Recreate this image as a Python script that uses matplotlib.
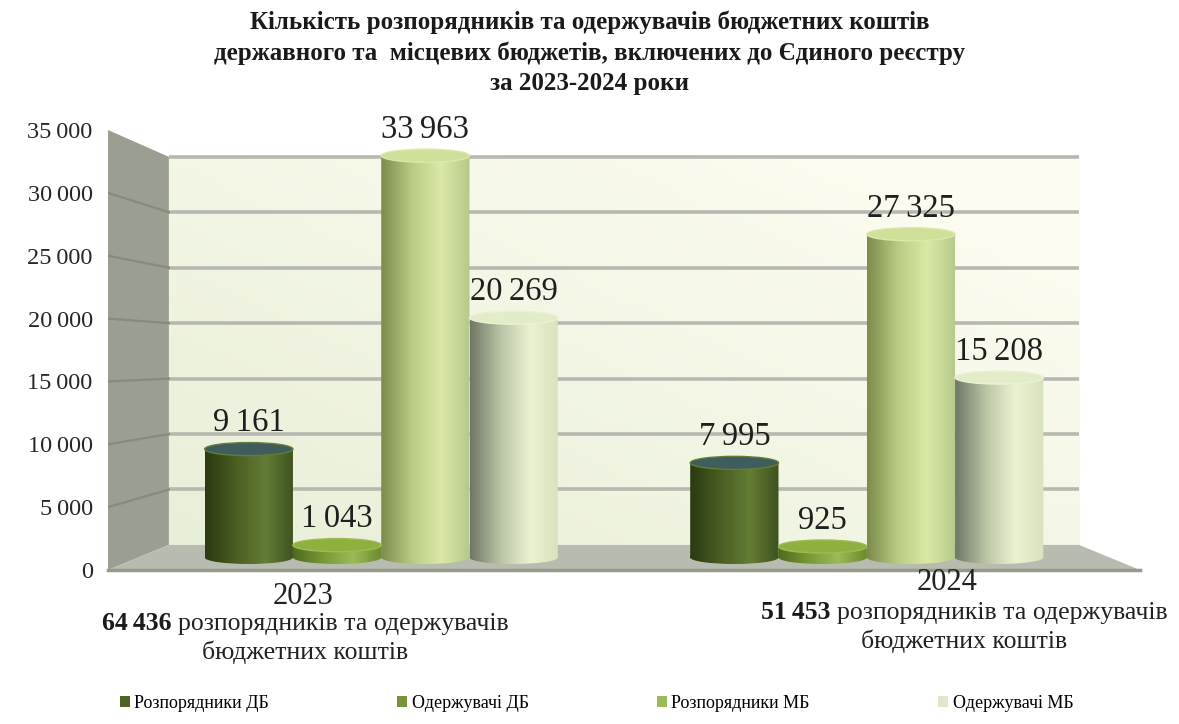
import numpy as np
import matplotlib

matplotlib.use("Agg")
import matplotlib.pyplot as plt
from matplotlib.patches import Polygon, Ellipse, Patch, PathPatch
from matplotlib.path import Path
from matplotlib.colors import LinearSegmentedColormap, to_rgb

plt.rcParams["font.family"] = ["Liberation Serif", "DejaVu Serif"]

# --- data -------------------------------------------------------------------
years = ["2023", "2024"]
series = ["Розпорядники ДБ", "Одержувачі ДБ", "Розпорядники МБ", "Одержувачі МБ"]
values_2023 = [9161, 1043, 33963, 20269]
values_2024 = [7995, 925, 27325, 15208]
y_ticks = [0, 5000, 10000, 15000, 20000, 25000, 30000, 35000]
title = ("Кількість розпорядників та одержувачів бюджетних коштів\n"
         "державного та  місцевих бюджетів, включених до Єдиного реєстру\n"
         "за 2023-2024 роки")
total_caption = "розпорядників та одержувачів\nбюджетних коштів"

# --- style ------------------------------------------------------------------
legend_colors = ["#4f6228", "#77933c", "#9bbb59", "#dfe8cc"]
# cylinder shading, left edge -> highlight -> right edge
shades = [
    ["#2c3a12", "#4a5e22", "#647d35", "#3f5220"],
    ["#4f6a1e", "#7a9a36", "#9dbb55", "#6d8a2c"],
    ["#7d8c4c", "#b9cc84", "#dbe9a7", "#b6c98a"],
    ["#6f7766", "#bcc6a6", "#eaf2d2", "#d8e3bd"],
]
top_colors = ["#3f5d5c", "#8fb03e", "#cfe09a", "#e3ecc8"]

X_LO, X_HI = -2.75, 8.25        # plot box in bar slots
V_MAX = 35000
VPX, VPV = 2.75, 16900          # vanishing point (front-plane units)
K_BACK = 0.882                  # scale of the back wall
BAR_D = 0.5                     # depth of the cylinders
TOP_RY = 520                    # half height of the cylinder caps
group_x = [0.0, 5.5]
bar_off = [-1.5, -0.5, 0.5, 1.5]


def proj(x, v, d):
    k = 1 - (1 - K_BACK) * np.asarray(d, dtype=float)
    return VPX + k * (np.asarray(x) - VPX), VPV + k * (np.asarray(v) - VPV)


def fmt(n):
    return f"{n:,}".replace(",", "\u2009")


fig = plt.figure(figsize=(11.79, 7.24), dpi=100)
ax = fig.add_axes([108 / 1179, 1 - 570 / 724, 1032 / 1179, 440 / 724])
ax.set_xlim(X_LO, X_HI)
ax.set_ylim(0, V_MAX)
for s in ax.spines.values():
    s.set_visible(False)
ax.set_xticks([])
ax.set_yticks(y_ticks)
ax.set_yticklabels([fmt(t) for t in y_ticks], fontsize=17.5, color="#262626")
ax.tick_params(axis="y", length=0, pad=11)

# back wall with soft gradient
bx0, bv0 = proj(X_LO, 0, 1)
bx1, bv1 = proj(X_HI, V_MAX, 1)
gy = np.linspace(0, 1, 60)[:, None]
gx = np.linspace(0, 1, 120)[None, :]
c_low = np.array(to_rgb("#e8efd8"))
c_high = np.array(to_rgb("#fcfcf0"))
mix = np.clip(0.55 * (1 - gy) + 0.6 * gx, 0, 1)[..., None]
wall = c_low * (1 - mix) + c_high * mix
ax.imshow(wall, extent=[bx0, bx1, bv0, bv1], origin="upper", aspect="auto", zorder=0)
for t in y_ticks[1:]:
    xs, vs = proj([X_LO, X_HI], [t, t], 1)
    ax.plot(xs, vs, color="#b7b8b0", lw=2.6, zorder=1, solid_capstyle="butt")

# left side wall
sx, sv = proj([X_LO, X_LO, X_LO, X_LO], [0, 0, V_MAX, V_MAX], [0, 1, 1, 0])
ax.add_patch(Polygon(np.column_stack([sx, sv]), closed=True, fc="#9a9f91",
                     ec="none", zorder=2, clip_on=False))
for t in y_ticks[1:-1]:
    xs, vs = proj([X_LO, X_LO], [t, t], [0, 1])
    ax.plot(xs, vs, color="#868b7d", lw=1.6, zorder=2)

# floor
fx, fv = proj([X_LO, X_HI, X_HI, X_LO], [0, 0, 0, 0], [0, 0, 1, 1])
ax.add_patch(Polygon(np.column_stack([fx, fv]), closed=True, fc="#b8bbaf",
                     ec="none", zorder=2, clip_on=False))
ax.plot([X_LO, X_HI], [0, 0], color="#959a8c", lw=2.5, zorder=2, clip_on=False)

# cylinders
for gi, vals in enumerate([values_2023, values_2024]):
    for si, val in enumerate(vals):
        cx = group_x[gi] + bar_off[si]
        (xl, xr), (base, top) = proj([cx - 0.5, cx + 0.5], [0, val], BAR_D)
        xm = 0.5 * (xl + xr)
        w = xr - xl
        cmap = LinearSegmentedColormap.from_list(
            "cyl", list(zip([0, 0.35, 0.68, 1], shades[si])))
        grad = cmap(np.linspace(0, 1, 128))[None, :, :3]
        cap = Ellipse((xm, base), w, 2 * TOP_RY)
        outline = Path.make_compound_path(
            Path([(xl, base), (xr, base), (xr, top), (xl, top), (xl, base)], closed=True),
            cap.get_path().transformed(cap.get_patch_transform()),
        )
        clip = PathPatch(outline, transform=ax.transData, fc="none", ec="none")
        ax.add_patch(clip)
        im = ax.imshow(grad, extent=[xl, xr, base - TOP_RY, top], aspect="auto",
                       zorder=3 + si * 0.01, interpolation="bilinear")
        im.set_clip_path(clip)
        ax.add_patch(Ellipse((xm, top), w, 2 * TOP_RY, fc=top_colors[si],
                             ec=shades[si][2], lw=1.0, zorder=3.1 + si * 0.01))
        ax.annotate(fmt(val), (xm, top + TOP_RY), xytext=(0, 3),
                    textcoords="offset points", ha="center", va="bottom",
                    fontsize=23.5, color="#1f1f1f", zorder=5)

# titles and captions
fig.text(0.5, 1 - 10 / 724, title, ha="center", va="top", fontsize=18,
         fontweight="bold", linespacing=1.42, color="#1a1a1a")

cap_pos = [(303 / 1179, 1 - 596 / 724), (947 / 1179, 1 - 582 / 724)]
tot_pos = [(305 / 1179, 1 - 638 / 724), (964 / 1179, 1 - 627 / 724)]
cap_fs = 18.5
for gi, vals in enumerate([values_2023, values_2024]):
    fig.text(*cap_pos[gi], years[gi], ha="center", va="center", fontsize=22,
             color="#222222")
    total = fmt(sum(vals))
    tx, ty = tot_pos[gi]
    lines = total_caption.split("\n")
    t1 = fig.text(tx, ty + 0.02, total + " " + lines[0], ha="center",
                  va="center", fontsize=cap_fs, color="#ffffff")
    fig.canvas.draw()
    bb = t1.get_window_extent()
    t1.set_visible(False)
    fig.text(bb.x0 / 1179, ty + 0.02, total, ha="left", va="center",
             fontsize=cap_fs, fontweight="bold", color="#1a1a1a")
    fig.text(bb.x1 / 1179, ty + 0.02, lines[0], ha="right", va="center",
             fontsize=cap_fs, color="#222222")
    fig.text(tx, ty - 0.02, lines[1], ha="center", va="center", fontsize=cap_fs,
             color="#222222")

handles = [Patch(fc=c, ec="none") for c in legend_colors]
fig.legend(handles, series, loc="center", bbox_to_anchor=(0.506, 1 - 703 / 724),
           ncol=4, frameon=False, fontsize=13, handlelength=0.55,
           handleheight=0.55, handletextpad=0.25, columnspacing=7.1)

fig.savefig("out.png", dpi=100)
